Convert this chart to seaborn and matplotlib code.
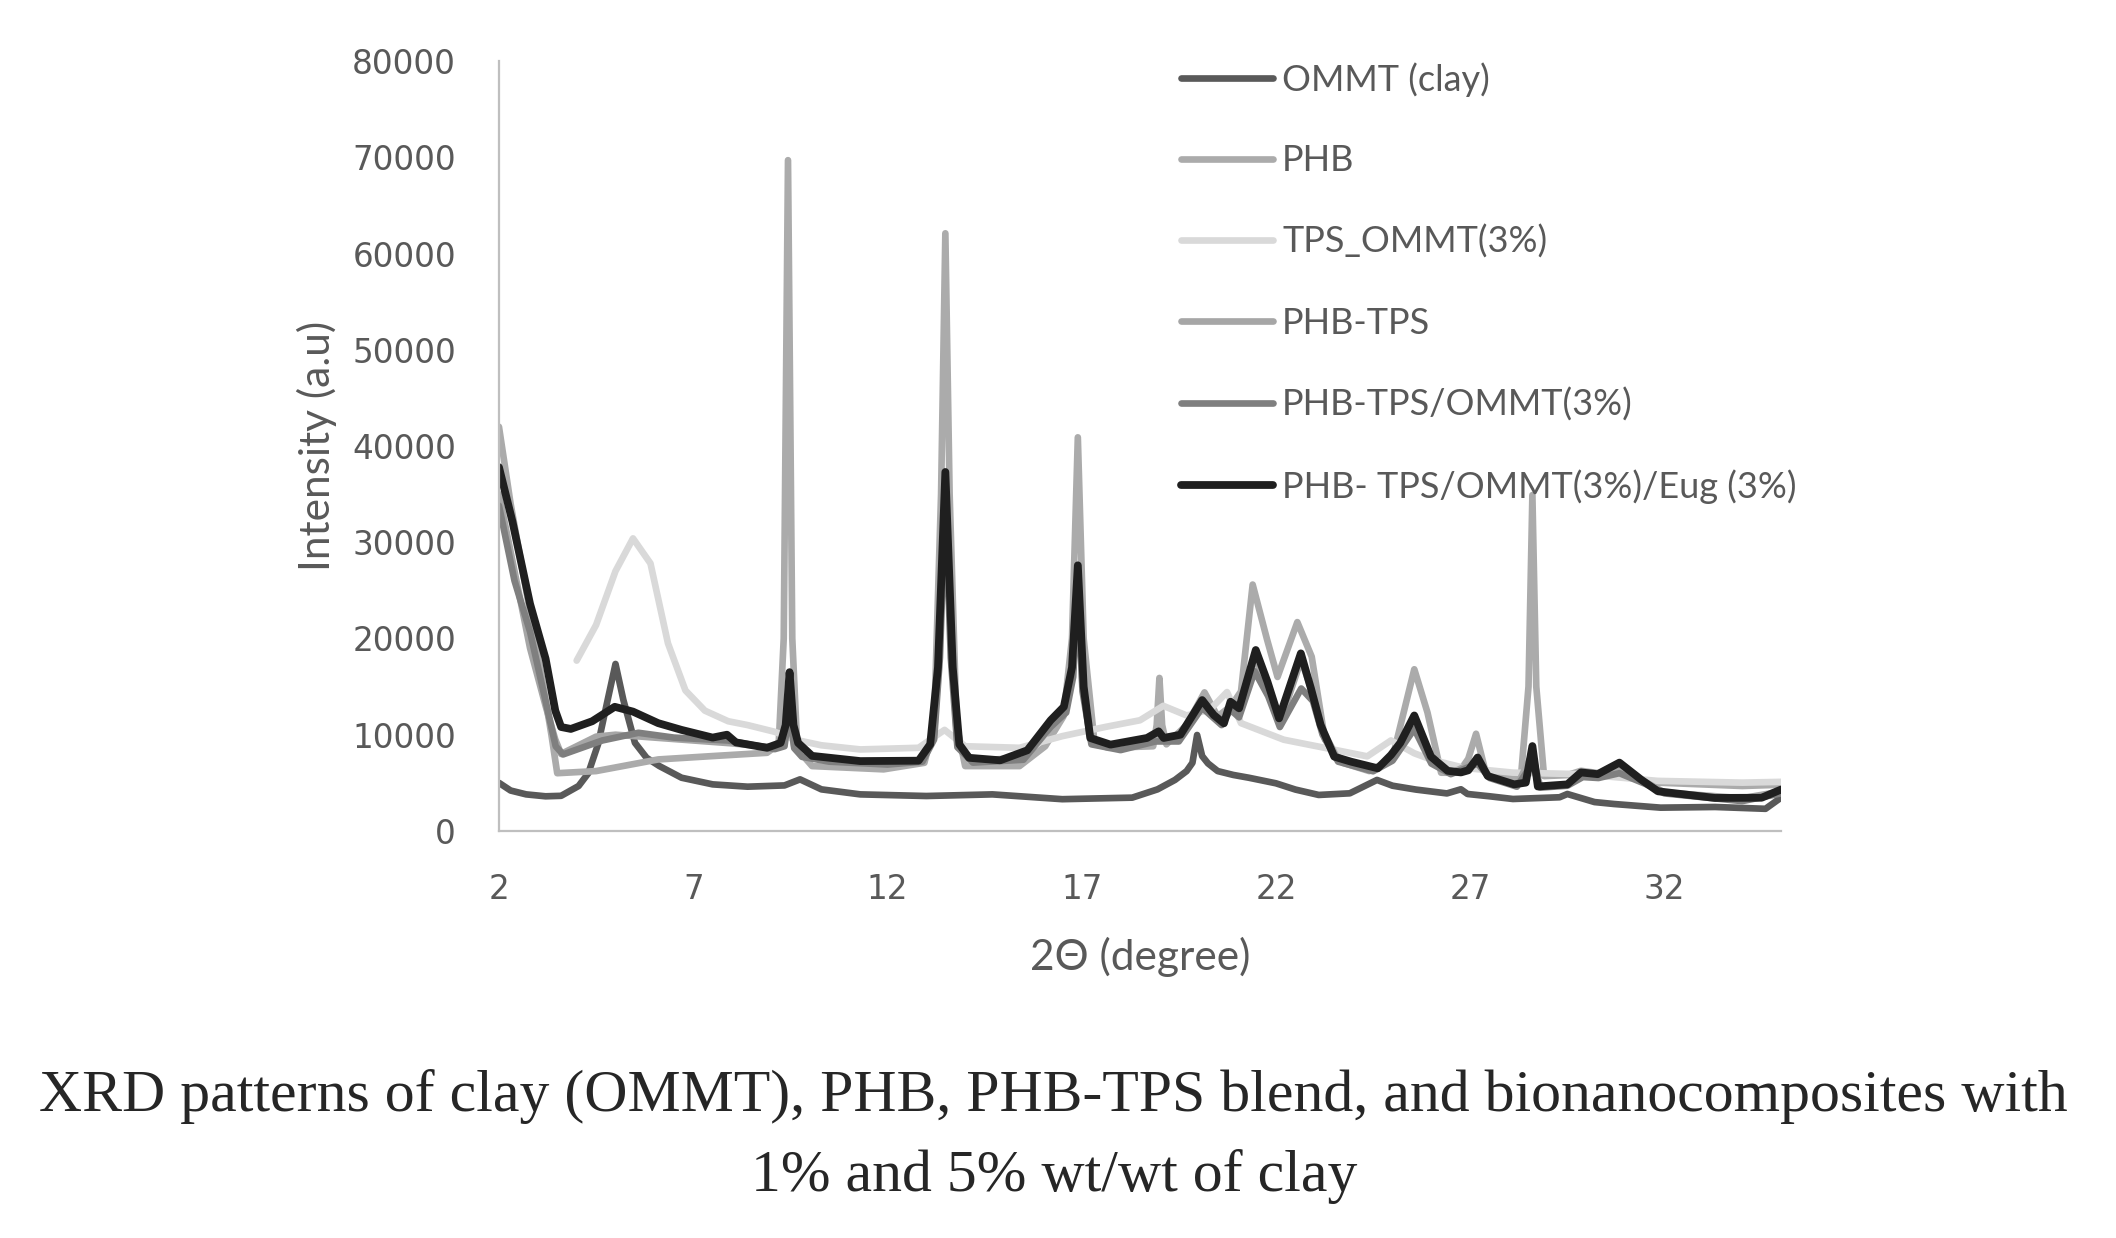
import matplotlib
matplotlib.use('Agg')
import matplotlib.pyplot as plt
import seaborn as sns

# --- data (2theta in degrees, intensity in a.u.) ---
ommt_x = [2.0, 2.3, 2.7, 3.2, 3.6, 4.05, 4.3, 4.55, 4.8, 5.0, 5.2, 5.5, 5.8, 6.13, 6.7, 7.5, 8.4, 9.35,
          9.75, 10.3, 11.3, 13.0, 14.7, 16.5, 18.3, 18.95, 19.4, 19.7, 19.85, 19.97, 20.1, 20.25, 20.5,
          20.9, 21.3, 22.0, 22.5, 23.1, 23.9, 24.6, 25.0, 25.6, 26.4, 26.76, 26.93, 27.5, 28.1, 29.3,
          29.5, 30.2, 30.7, 31.9, 33.3, 34.6, 35.0]
ommt_y = [5000, 4200, 3800, 3600, 3650, 4670, 6000, 9000, 13650, 17350, 13650, 9160, 7600, 6740, 5530,
          4840, 4600, 4730, 5360, 4320, 3800, 3630, 3800, 3300, 3460, 4320, 5300, 6220, 7080, 9970, 7780,
          7020, 6220, 5820, 5530, 4950, 4300, 3740, 3910, 5300, 4700, 4300, 3900, 4330, 3840, 3600, 3320,
          3500, 3840, 3000, 2800, 2420, 2490, 2300, 3460]

phb_x = [2.0, 2.3, 2.7, 3.1, 3.35, 3.5, 4.5, 6.1, 7.5, 8.9, 9.2, 9.33, 9.44, 9.55, 9.68, 10.06, 11.9,
         12.95, 13.2, 13.38, 13.49, 13.6, 13.78, 14.0, 15.4, 16.06, 16.53, 16.75, 16.9, 17.05, 17.33,
         17.68, 18.84, 18.93, 19.0, 19.07, 19.18, 19.7, 20.16, 20.5, 20.85, 21.1, 21.4, 21.77, 22.04,
         22.55, 22.92, 23.26, 23.72, 24.4, 24.99, 25.56, 25.9, 26.25, 26.7, 26.95, 27.15, 27.4, 28.3,
         28.5, 28.6, 28.7, 28.9, 29.5, 29.85, 30.84, 31.83, 34.0, 35.0]
phb_y = [42000, 34000, 25000, 16000, 10000, 6000, 6220, 7430, 7780, 8120, 9000, 20000, 69700, 20000,
         8500, 6740, 6400, 7080, 11000, 35000, 62100, 35000, 11000, 6740, 6740, 8800, 11900, 20000,
         40900, 20000, 9150, 8640, 8800, 11000, 15900, 11000, 9000, 11000, 14400, 11900, 13000, 14500,
         25600, 19900, 16000, 21700, 18100, 9500, 7080, 6220, 7430, 16800, 12300, 6050, 6050, 7500,
         10100, 6050, 5360, 15000, 34900, 15000, 5700, 5800, 6250, 5710, 5020, 4670, 4800]

tps_x = [4.0, 4.5, 5.0, 5.45, 5.9, 6.35, 6.8, 7.3, 7.9, 8.4, 9.1, 9.6, 10.3, 11.3, 12.8, 13.47, 14.0,
         15.4, 16.5, 17.6, 18.5, 19.1, 19.7, 20.3, 20.74, 21.1, 22.2, 23.5, 24.35, 24.96, 25.56, 26.0,
         26.85, 28.1, 29.85, 31.83, 34.0, 35.0]
tps_y = [17700, 21400, 27000, 30400, 27800, 19500, 14600, 12500, 11400, 11000, 10300, 9500, 8900, 8470,
         8640, 10500, 8800, 8640, 9850, 10800, 11500, 13000, 12000, 12600, 14430, 11200, 9480, 8440,
         7750, 9400, 8070, 7410, 6550, 6060, 5900, 5200, 5020, 5100]

phbtps_x = [2.0, 2.4, 2.8, 3.2, 3.45, 3.6, 4.5, 5.0, 6.0, 7.0, 8.0, 9.0, 9.3, 9.45, 9.6, 9.8, 10.5,
            12.0, 12.9, 13.2, 13.35, 13.49, 13.63, 13.8, 14.2, 15.5, 16.2, 16.6, 16.78, 16.9, 17.02,
            17.25, 18.0, 18.9, 19.5, 20.1, 20.6, 20.83, 21.05, 21.45, 21.8, 22.1, 22.65, 22.95, 23.2,
            23.6, 24.5, 25.0, 25.56, 26.0, 26.5, 27.19, 27.5, 28.2, 28.6, 28.8, 29.5, 29.9, 30.3, 30.84,
            31.5, 32.0, 34.0, 35.0]
phbtps_y = [35000, 27000, 19000, 13000, 9500, 8000, 9800, 10000, 9700, 9400, 9100, 8700, 9000, 14000,
            8800, 7900, 7400, 7000, 7400, 10000, 20000, 36000, 20000, 9000, 7300, 7600, 11000, 12600,
            17000, 26500, 15000, 9200, 8600, 9600, 9600, 13200, 11500, 13000, 12200, 18000, 15000,
            11200, 17800, 14200, 10500, 7400, 6400, 7600, 11500, 7400, 6000, 7300, 5600, 4700, 8000,
            4600, 4800, 5800, 5700, 6500, 5100, 4000, 3400, 4100]

phbtpsommt_x = [2.0, 2.4, 2.8, 3.2, 3.46, 3.65, 4.66, 5.59, 6.5, 7.9, 9.1, 9.35, 9.47, 9.6, 9.8, 10.5,
                12.0, 12.9, 13.2, 13.35, 13.49, 13.63, 13.8, 14.2, 15.5, 16.2, 16.6, 16.78, 16.9, 17.02,
                17.25, 18.0, 18.9, 19.5, 20.1, 20.6, 20.83, 21.05, 21.45, 21.8, 22.1, 22.65, 22.95,
                23.2, 23.6, 24.5, 25.0, 25.56, 26.0, 26.5, 27.19, 27.5, 28.2, 28.6, 28.8, 29.5, 29.9,
                30.3, 30.84, 31.5, 32.0, 34.0, 35.0]
phbtpsommt_y = [33800, 26000, 20700, 13500, 8800, 7950, 9400, 10200, 9700, 9400, 8500, 8800, 12500,
                8600, 7700, 7200, 6900, 7200, 9500, 18000, 34500, 18000, 8700, 7100, 7400, 10800, 12300,
                16000, 25500, 14500, 9000, 8400, 9300, 9300, 12800, 11000, 12600, 11800, 16600, 14000,
                10800, 14800, 13500, 10000, 7200, 6200, 7300, 10600, 7000, 5900, 7000, 5500, 4600, 7000,
                4500, 4700, 5600, 5500, 6000, 4900, 3900, 3100, 3900]

eug_x = [2.0, 2.35, 2.8, 3.2, 3.45, 3.6, 3.85, 4.4, 4.98, 5.45, 6.1, 6.7, 7.5, 7.87, 8.1, 8.9, 9.25,
         9.38, 9.48, 9.58, 9.7, 10.06, 11.3, 12.8, 13.1, 13.3, 13.49, 13.68, 13.85, 14.1, 14.9, 15.6,
         16.2, 16.54, 16.75, 16.9, 17.05, 17.22, 17.74, 18.68, 18.98, 19.11, 19.54, 20.1, 20.4, 20.66,
         20.83, 21.05, 21.48, 21.78, 22.08, 22.64, 22.9, 23.15, 23.5, 23.93, 24.62, 24.96, 25.2, 25.56,
         25.99, 26.42, 26.76, 26.95, 27.19, 27.45, 28.13, 28.43, 28.6, 28.74, 29.5, 29.85, 30.28,
         30.84, 31.4, 31.83, 33.3, 34.5, 35.0]
eug_y = [37800, 32100, 23600, 17900, 12500, 10800, 10600, 11400, 12900, 12400, 11200, 10500, 9700,
         10000, 9200, 8640, 9150, 11000, 16500, 11000, 9150, 7800, 7260, 7300, 9000, 17000, 37300,
         17000, 9000, 7600, 7340, 8380, 11500, 12900, 17000, 27600, 15000, 9660, 8970, 9660, 10350,
         9660, 10000, 13600, 12040, 11180, 13430, 12740, 18800, 15510, 11700, 18450, 14810, 11010,
         7720, 7200, 6510, 7890, 9150, 12000, 7720, 6250, 6080, 6300, 7630, 5710, 4840, 5020, 8820,
         4620, 4840, 6080, 5900, 7100, 5330, 4120, 3430, 3450, 4300]

series_names = ['OMMT (clay)', 'PHB', 'TPS_OMMT(3%)', 'PHB-TPS', 'PHB-TPS/OMMT(3%)',
                'PHB- TPS/OMMT(3%)/Eug (3%)']
series_x = [ommt_x, phb_x, tps_x, phbtps_x, phbtpsommt_x, eug_x]
series_y = [ommt_y, phb_y, tps_y, phbtps_y, phbtpsommt_y, eug_y]
colors = ['#595959', '#ABABAB', '#D9D9D9', '#A6A6A6', '#7F7F7F', '#1F1F1F']
widths = [4.8, 4.8, 4.8, 4.8, 4.8, 5.6]

xticks = [2, 7, 12, 17, 22, 27, 32]
yticks = [0, 10000, 20000, 30000, 40000, 50000, 60000, 70000, 80000]

caption = ['XRD patterns of clay (OMMT), PHB, PHB-TPS blend, and bionanocomposites with',
           '1% and 5% wt/wt of clay']

sns.set_style('white')
plt.rcParams['font.family'] = ['Lato', 'DejaVu Sans']
text_grey = '#595959'

fig = plt.figure(figsize=(21.16, 12.38), dpi=100)
ax = fig.add_axes([0.2358, 0.3288, 0.6059, 0.6219])

for name, xs, ys, c, lw in zip(series_names, series_x, series_y, colors, widths):
    sns.lineplot(x=xs, y=ys, ax=ax, color=c, lw=lw, label=name, sort=False, estimator=None,
                 solid_capstyle='round', solid_joinstyle='round')

ax.set_xlim(2, 35)
ax.set_ylim(0, 80000)
ax.set_xticks(xticks)
ax.set_xticklabels([str(t) for t in xticks])
ax.set_yticks(yticks)
ax.set_yticklabels([str(t) for t in yticks])
ax.tick_params(length=0, labelsize=23.5, colors=text_grey)
ax.tick_params(axis='x', pad=30)
ax.tick_params(axis='y', pad=31)
for lab in ax.get_xticklabels() + ax.get_yticklabels():
    lab.set_family('DejaVu Sans')

for s in ['top', 'right']:
    ax.spines[s].set_visible(False)
for s in ['left', 'bottom']:
    ax.spines[s].set_color('#BFBFBF')
    ax.spines[s].set_linewidth(1.6)

ax.set_ylabel('Intensity (a.u)', fontsize=30.5, color=text_grey)
ax.yaxis.set_label_coords(-0.126, 0.5)
ax.set_xlabel('2Θ (degree)', fontsize=30.5, color=text_grey)
ax.xaxis.set_label_coords(0.5, -0.137)

leg = ax.legend(loc='upper left', bbox_to_anchor=(1181 / 2116, 1 - 62 / 1238),
                bbox_transform=fig.transFigure, frameon=False, fontsize=26,
                handlelength=2.55, handletextpad=0.25, labelspacing=1.32,
                borderpad=0, borderaxespad=0)
for t in leg.get_texts():
    t.set_color(text_grey)

fig.text(0.498, 0.1147, caption[0], ha='center', va='center', family='Liberation Serif', fontsize=43)
fig.text(0.498, 0.0493, caption[1], ha='center', va='center', family='Liberation Serif', fontsize=43)

fig.savefig('out.png', dpi=100, facecolor='white')
